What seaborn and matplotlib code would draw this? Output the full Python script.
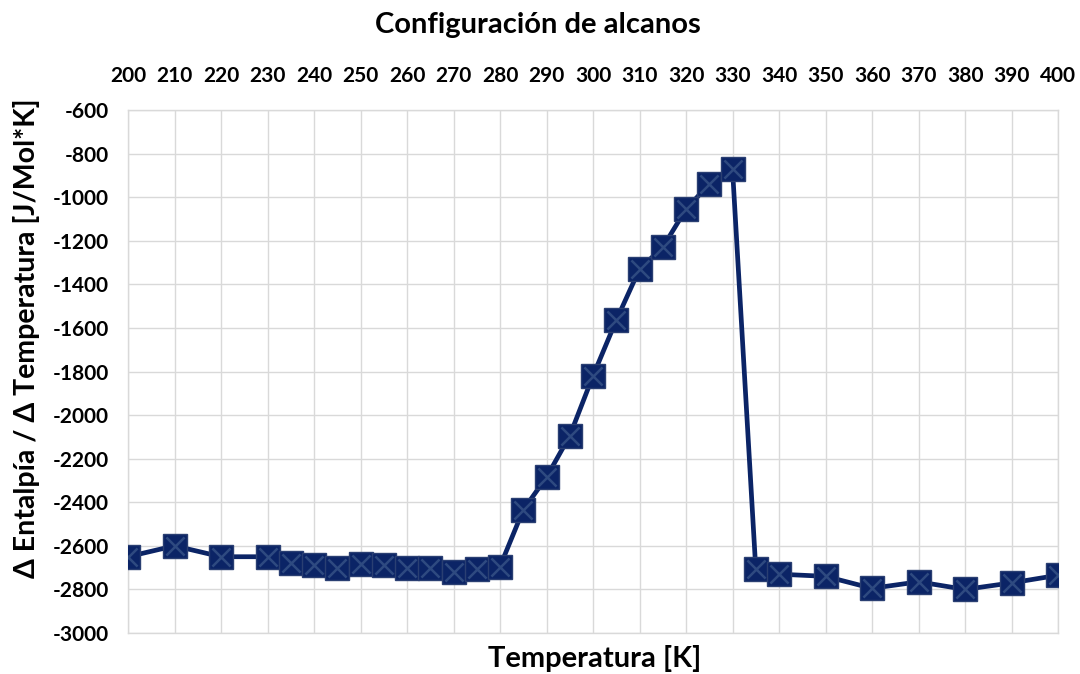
import matplotlib
matplotlib.use("Agg")
import matplotlib.pyplot as plt
import seaborn as sns
import pandas as pd

temperatura = [200, 210, 220, 230, 235, 240, 245, 250, 255, 260, 265, 270, 275, 280,
               285, 290, 295, 300, 305, 310, 315, 320, 325, 330, 335, 340, 350, 360,
               370, 380, 390, 400]
delta = [-2650, -2600, -2650, -2650, -2680, -2690, -2700, -2685, -2690, -2700, -2702, -2720,
         -2705, -2695, -2435, -2285, -2095, -1820, -1565, -1330, -1230, -1055, -940, -870,
         -2705, -2730, -2740, -2795, -2765, -2800, -2770, -2735]
x_ticks = list(range(200, 401, 10))
y_ticks = list(range(-3000, -599, 200))

df = pd.DataFrame({"T": temperatura, "D": delta})

sns.set_theme(style="white")
plt.rcParams['font.family'] = ['Lato', 'DejaVu Sans']
plt.rcParams['axes.unicode_minus'] = False
plt.rcParams['text.color'] = 'black'
plt.rcParams['xtick.color'] = 'black'
plt.rcParams['ytick.color'] = 'black'

fig = plt.figure(figsize=(10.8, 6.74), dpi=100)
ax = fig.add_axes([128/1080, 1 - 633/674, (1058-128)/1080, (633-110)/674])

navy = "#0B2466"
sns.lineplot(data=df, x="T", y="D", ax=ax, color=navy, linewidth=3.4,
             marker="s", markersize=17, markerfacecolor=navy, markeredgecolor="#2A3F72",
             markeredgewidth=1.0, zorder=3)
sns.scatterplot(data=df, x="T", y="D", ax=ax, marker="x", s=170, color="#2E4A80",
                linewidth=1.8, zorder=4)

ax.set_xlim(200, 400)
ax.set_ylim(-3000, -600)
ax.set_xticks(x_ticks)
ax.set_yticks(y_ticks)
ax.xaxis.tick_top()
ax.tick_params(axis="x", length=0, labelsize=15, pad=17)
ax.tick_params(axis="y", length=0, labelsize=15, pad=14)
for lbl in ax.get_xticklabels() + ax.get_yticklabels():
    lbl.set_fontweight("bold")
ax.grid(True, color="#D9D9D9", linewidth=1.0)
for s in ax.spines.values():
    s.set_color("#D9D9D9")
    s.set_linewidth(1.0)

ax.set_xlabel("")
ax.set_ylabel("")
fig.text(595/1080, 1 - 658/674, "Temperatura [K]", ha="center", va="center",
         fontsize=21, fontweight="bold")
fig.text(27/1080, 1 - 338/674, "Δ Entalpía / Δ Temperatura [J/Mol*K]", ha="center",
         va="center", rotation=90, fontsize=20.5, fontweight="bold")
fig.text(538/1080, 1 - 25/674, "Configuración de alcanos", ha="center", va="center",
         fontsize=21, fontweight="bold")

fig.savefig("out.png", dpi=100, facecolor="white")
